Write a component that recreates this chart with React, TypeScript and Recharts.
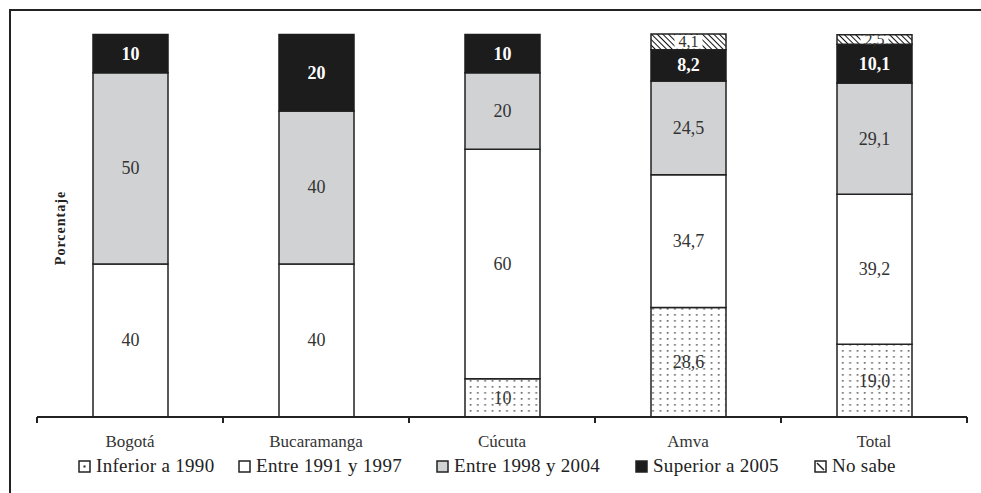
import { BarChart, Bar, XAxis, YAxis, LabelList } from "recharts";

// Año de inicio por ciudad, porcentaje apilado al 100 %.

const categories = ["Bogotá", "Bucaramanga", "Cúcuta", "Amva", "Total"];
const labelDecimals = [0, 0, 0, 1, 1];

const inferior1990 = [0, 0, 10, 28.6, 19.0];
const entre1991y1997 = [40, 40, 60, 34.7, 39.2];
const entre1998y2004 = [50, 40, 20, 24.5, 29.1];
const superior2005 = [10, 20, 10, 8.2, 10.1];
const noSabe = [0, 0, 0, 4.1, 2.5];

const data = categories.map((name, i) => ({
  name,
  dec: labelDecimals[i],
  inferior1990: inferior1990[i],
  entre1991y1997: entre1991y1997[i],
  entre1998y2004: entre1998y2004[i],
  superior2005: superior2005[i],
  noSabe: noSabe[i],
}));

const W = 981;
const H = 493;
const PLOT_LEFT = 37;
const PLOT_RIGHT = 967;
const AXIS_Y = 417;
const BAND = (PLOT_RIGHT - PLOT_LEFT) / categories.length;
const FONT = '"Liberation Serif", "Times New Roman", Tinos, "DejaVu Serif", "Noto Serif", FreeSerif, serif';
const INK = "#222";
const GRAY = "#d1d2d4";

// label text comes from the row itself so each city keeps its own decimals
const labelValue = (key: string) => (entry: any) => {
  const row = entry?.payload ?? {};
  const v = row[key];
  if (!v) return "";
  return Number(v).toFixed(row.dec ?? 0).replace(".", ",");
};

function Patterns() {
  return (
    <defs>
      <pattern id="dots" width="7.3" height="6" patternUnits="userSpaceOnUse">
        <rect width="7.3" height="6" fill="#fff" />
        <rect x="2.5" y="2" width="1.7" height="1.7" fill="#6e6e6e" />
      </pattern>
      <pattern id="hatch" width="4" height="4" patternUnits="userSpaceOnUse" patternTransform="rotate(-45)">
        <rect width="4" height="4" fill="#fff" />
        <line x1="0" y1="0" x2="0" y2="4" stroke="#111" strokeWidth="2" />
      </pattern>
    </defs>
  );
}

function segLabel(color: string, bold: boolean, boxed = false) {
  return (props: any) => {
    const { x, y, width, height, value } = props;
    if (!value) return null;
    const cx = x + width / 2;
    const cy = y + height / 2;
    return (
      <g>
        {boxed && <rect x={cx - 14} y={y + 1} width={28} height={Math.max(height - 2, 1)} fill="#fff" />}
        <text
          x={cx}
          y={cy}
          textAnchor="middle"
          dominantBaseline="central"
          fill={color}
          fontFamily={FONT}
          fontSize={boxed ? 16 : 18}
          fontWeight={bold ? 700 : 400}
        >
          {value}
        </text>
      </g>
    );
  };
}

function CategoryTick(props: any) {
  const { x, payload, index } = props;
  const left = x - BAND / 2;
  return (
    <g>
      <line x1={left} y1={AXIS_Y} x2={left} y2={AXIS_Y + 6} stroke={INK} strokeWidth={2} />
      {index === categories.length - 1 && (
        <line x1={left + BAND} y1={AXIS_Y} x2={left + BAND} y2={AXIS_Y + 6} stroke={INK} strokeWidth={2} />
      )}
      <text x={x} y={AXIS_Y + 30} textAnchor="middle" fill="#333" fontFamily={FONT} fontSize={17}>
        {payload.value}
      </text>
    </g>
  );
}

const legendItems = [
  { label: "Inferior a 1990", fill: "#fff", mark: "dot", left: 78 },
  { label: "Entre 1991 y 1997", fill: "#fff", mark: "", left: 238 },
  { label: "Entre 1998 y 2004", fill: GRAY, mark: "", left: 436 },
  { label: "Superior a 2005", fill: "#1c1c1c", mark: "", left: 635 },
  { label: "No sabe", fill: "#fff", mark: "slash", left: 814 },
];

function LegendRow() {
  return (
    <>
      {legendItems.map((it) => (
        <div
          key={it.label}
          style={{
            position: "absolute",
            left: it.left,
            top: 455,
            display: "flex",
            alignItems: "center",
            fontFamily: FONT,
            fontSize: 19,
            letterSpacing: 0.3,
            color: "#222",
            whiteSpace: "nowrap",
          }}
        >
          <svg width={13} height={13} style={{ marginRight: 5 }}>
            <rect x={1} y={1} width={11} height={11} fill={it.fill} stroke={INK} strokeWidth={1.5} />
            {it.mark === "dot" && <rect x={5.5} y={5.5} width={2} height={2} fill={INK} />}
            {it.mark === "slash" && <line x1={3} y1={3} x2={10} y2={10} stroke={INK} strokeWidth={1.5} />}
          </svg>
          <span>{it.label}</span>
        </div>
      ))}
    </>
  );
}

export default function App() {
  return (
    <div style={{ position: "absolute", left: 0, top: 0, width: W, height: H, background: "#fff", overflow: "hidden" }}>
      <div
        style={{
          position: "absolute",
          left: 9,
          top: 9,
          right: 0,
          bottom: 0,
          borderTop: `2px solid ${INK}`,
          borderLeft: `2px solid ${INK}`,
        }}
      />
      <BarChart
        width={W}
        height={H}
        data={data}
        barSize={75}
        margin={{ top: 34, right: W - PLOT_RIGHT, left: PLOT_LEFT, bottom: H - AXIS_Y - 30 }}
        style={{ position: "absolute", left: 0, top: 0 }}
      >
        <Patterns />
        <XAxis
          dataKey="name"
          height={30}
          axisLine={{ stroke: INK, strokeWidth: 2 }}
          tickLine={false}
          tick={<CategoryTick />}
          interval={0}
        />
        <YAxis hide type="number" domain={[0, 100]} />
        <Bar dataKey="inferior1990" stackId="s" fill="url(#dots)" stroke={INK} strokeWidth={1.5} isAnimationActive={false}>
          <LabelList valueAccessor={labelValue("inferior1990")} content={segLabel("#333", false)} />
        </Bar>
        <Bar dataKey="entre1991y1997" stackId="s" fill="#fff" stroke={INK} strokeWidth={1.5} isAnimationActive={false}>
          <LabelList valueAccessor={labelValue("entre1991y1997")} content={segLabel("#333", false)} />
        </Bar>
        <Bar dataKey="entre1998y2004" stackId="s" fill={GRAY} stroke={INK} strokeWidth={1.5} isAnimationActive={false}>
          <LabelList valueAccessor={labelValue("entre1998y2004")} content={segLabel("#333", false)} />
        </Bar>
        <Bar dataKey="superior2005" stackId="s" fill="#1c1c1c" stroke="#1c1c1c" strokeWidth={1.5} isAnimationActive={false}>
          <LabelList valueAccessor={labelValue("superior2005")} content={segLabel("#fff", true)} />
        </Bar>
        <Bar dataKey="noSabe" stackId="s" fill="url(#hatch)" stroke={INK} strokeWidth={1.5} isAnimationActive={false}>
          <LabelList valueAccessor={labelValue("noSabe")} content={segLabel("#333", false, true)} />
        </Bar>
        <text
          x={60}
          y={228}
          transform="rotate(-90 60 228)"
          textAnchor="middle"
          dominantBaseline="central"
          fontFamily={FONT}
          fontSize={14}
          fontWeight={700}
          letterSpacing={1}
          fill="#222"
        >
          Porcentaje
        </text>
      </BarChart>
      <LegendRow />
    </div>
  );
}
